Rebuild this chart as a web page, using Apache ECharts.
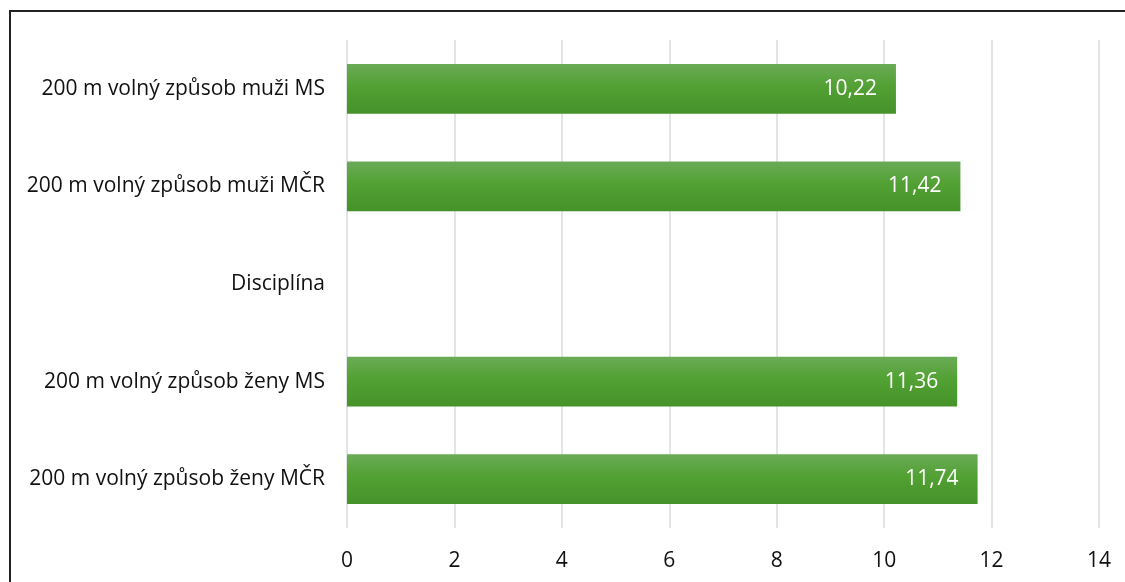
<!DOCTYPE html>
<html>
<head>
    <meta charset="utf-8">
    <style>
        body{ margin:0; padding:0; background:#fff; }
        #chart{ width:1125px; height:582px; }
    </style>
</head>
<body>
    <div id="chart"></div>
    <script src="https://cdn.jsdelivr.net/npm/echarts@6/dist/echarts.min.js"></script>
    <script>
        var categories = [
            "200 m volný způsob muži MS",
            "200 m volný způsob muži MČR",
            "Disciplína",
            "200 m volný způsob ženy MS",
            "200 m volný způsob ženy MČR"
        ];
        var values = [10.22, 11.42, null, 11.36, 11.74];
        var xTicks = [0, 2, 4, 6, 8, 10, 12, 14];

        var chart = echarts.init(document.getElementById("chart"));
        var font = "'Open Sans', 'Noto Sans', sans-serif";

        var option = {
            animation: false,
            graphic: [{
                type: "rect",
                shape: { x: 10, y: 11, width: 1140, height: 600 },
                style: { fill: "none", stroke: "#222", lineWidth: 2 }
            }],
            grid: { left: 347, right: 26, top: 40, bottom: 54 },
            xAxis: {
                type: "value",
                min: xTicks[0],
                max: xTicks[xTicks.length - 1],
                interval: 2,
                axisLine: { show: false },
                axisTick: { show: false },
                splitLine: { lineStyle: { color: "#e1e5e5", width: 2 } },
                axisLabel: { color: "#111", fontSize: 21, fontFamily: font, margin: 23 }
            },
            yAxis: {
                type: "category",
                inverse: true,
                data: categories,
                axisLine: { show: false },
                axisTick: { show: false },
                axisLabel: { color: "#111", fontSize: 21, fontFamily: font, margin: 22 }
            },
            series: [{
                type: "bar",
                data: values,
                barCategoryGap: "49%",
                itemStyle: {
                    color: new echarts.graphic.LinearGradient(0, 0, 0, 1, [
                        { offset: 0, color: "#6aab57" },
                        { offset: 0.45, color: "#52a133" },
                        { offset: 1, color: "#46922a" }
                    ])
                },
                label: {
                    show: true,
                    position: "insideRight",
                    distance: 19,
                    color: "#fff",
                    fontSize: 21,
                    fontFamily: font,
                    formatter: function (p) {
                        return p.value.toFixed(2).replace(".", ",");
                    }
                }
            }]
        };
        chart.setOption(option);
    </script>
</body>
</html>
